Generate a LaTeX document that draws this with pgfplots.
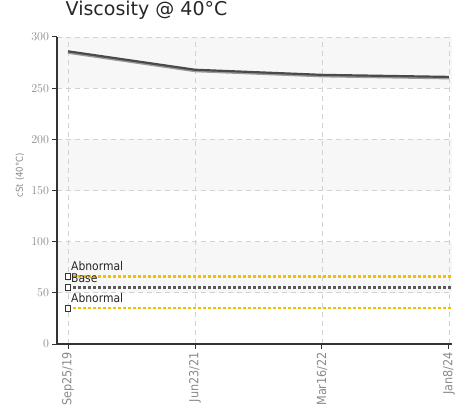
\documentclass[border=0pt]{standalone}
\usepackage{fontspec}
\setmainfont{DejaVu Sans}
\newfontfamily\condensed{DejaVu Sans Condensed}
\usepackage{pgfplots}
\pgfplotsset{compat=1.18}
\definecolor{bandgray}{HTML}{F7F7F7}
\definecolor{gridc}{HTML}{D2D2D2}
\definecolor{axisc}{HTML}{333333}
\definecolor{tickc}{HTML}{8A8A8A}
\definecolor{limy}{HTML}{F2C200}
\definecolor{basec}{HTML}{5A5A5A}
\definecolor{linec}{HTML}{4A4A4A}
\definecolor{shadc}{HTML}{9A9A9A}
\begin{document}
\begin{tikzpicture}
\begin{axis}[
  set layers,
  at={(0,0)}, anchor=south west,
  scale only axis, width=395pt, height=307pt,
  xmin=-0.087, xmax=3.024, ymin=0, ymax=300,
  axis x line=bottom, axis y line=left,
  axis line style={-, draw=axisc, line width=1.5pt},
  xtick={0,1,2,3}, xticklabels={Sep25/19,Jun23/21,Mar16/22,Jan8/24},
  ytick={0,50,100,150,200,250,300},
  tick align=outside,
  major tick length=4.5pt,
  tick style={draw=axisc, line width=1pt},
  xticklabel style={rotate=90, anchor=east, font=\condensed\fontsize{12.5}{14}\selectfont, text=tickc},
  yticklabel style={font=\condensed\fontsize{13}{14}\selectfont, text=tickc},
  grid=major,
  major grid style={draw=gridc, dash pattern=on 5pt off 4pt, line width=0.8pt},
  ylabel={cSt (40°C)},
  ylabel style={font=\condensed\fontsize{9.5}{11}\selectfont, text=tickc, at={(axis description cs:-0.094,0.55)}, anchor=center, rotate=0},
  title={Viscosity @ 40°C},
  title style={font=\fontsize{19}{22}\selectfont, text=black!85, anchor=base west, at={(axis description cs:0.013,1.049)}},
  clip=false,
]
\begin{pgfonlayer}{axis background}
\fill[bandgray] (axis cs:-0.087,50) rectangle (axis cs:3.024,100);
\fill[bandgray] (axis cs:-0.087,150) rectangle (axis cs:3.024,200);
\fill[bandgray] (axis cs:-0.087,250) rectangle (axis cs:3.024,300);
\end{pgfonlayer}
\begin{pgfonlayer}{axis foreground}
\draw[axisc, line width=1.6pt] (axis cs:-0.087,0) -- (axis cs:-0.087,300);
\end{pgfonlayer}
% data line with shadow
\addplot[shadc, line width=2.4pt, yshift=-1.3pt, no marks] coordinates {(0,286) (1,268) (2,263) (3,261)};
\addplot[linec, line width=2.2pt, no marks] coordinates {(0,286) (1,268) (2,263) (3,261)};
% limit lines
\addplot[limy, line width=2.5pt, dash pattern=on 3pt off 2pt, mark=square*, mark indices={1}, mark size=2.9pt, mark options={solid, fill=white, draw=axisc, line width=1pt}]
  coordinates {(0,66) (3.024,66)} node[pos=0, anchor=base west, yshift=5.5pt, xshift=-1.5pt, text=black!85, font=\condensed\fontsize{12}{14}\selectfont]{Abnormal};
\addplot[basec, line width=2.5pt, dash pattern=on 3pt off 2pt, mark=square*, mark indices={1}, mark size=2.9pt, mark options={solid, fill=white, draw=axisc, line width=1pt}]
  coordinates {(0,55) (3.024,55)} node[pos=0, anchor=base west, yshift=5.5pt, xshift=-1.5pt, text=black!85, font=\condensed\fontsize{12}{14}\selectfont]{Base};
\addplot[limy, line width=2.5pt, dash pattern=on 3pt off 2pt, mark=square*, mark indices={1}, mark size=2.9pt, mark options={solid, fill=white, draw=axisc, line width=1pt}]
  coordinates {(0,35) (3.024,35)} node[pos=0, anchor=base west, yshift=5.5pt, xshift=-1.5pt, text=black!85, font=\condensed\fontsize{12}{14}\selectfont]{Abnormal};
\end{axis}
\pgfresetboundingbox
\useasboundingbox (-57pt,-69pt) rectangle (399pt,344pt);
\end{tikzpicture}
\end{document}
